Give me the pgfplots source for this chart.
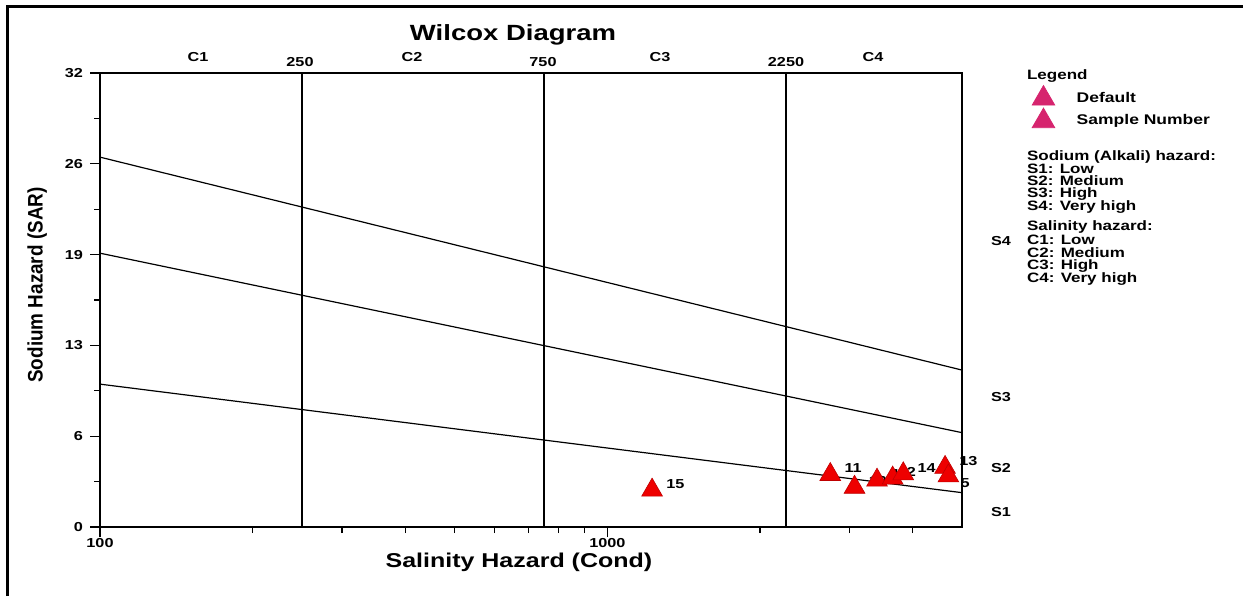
\documentclass[border=0pt]{standalone}
\usepackage{pgfplots}
\pgfplotsset{compat=1.18}
\usepackage{pgfplotstable}
\usepackage{fontspec}
\setmainfont{Liberation Sans}[FakeStretch=1.25]
\newfontfamily\ylabfont{Liberation Sans}[FakeStretch=0.9]
\definecolor{legpink}{RGB}{214,36,110}
\definecolor{ptred}{RGB}{238,0,0}

\pgfplotstableread{
x y lab
1225 2.6 15
2750 3.7 11
3070 2.8 10
3400 3.3 1
3650 3.45 2
3830 3.75 14
4630 4.2 13
}\samplesA
\pgfplotstableread{
x y lab
4700 3.6 5
}\samplesB

\begin{document}
\begin{tikzpicture}
\useasboundingbox (0,0) rectangle (621.5pt,298pt);
\draw[line width=1.5pt] (3.5pt,0) -- (3.5pt,294.5pt) -- (621.5pt,294.5pt);
\begin{axis}[
  at={(50pt,34.5pt)}, anchor=south west,
  scale only axis, width=431pt, height=227pt,
  xmode=log, log basis x=10,
  xmin=100, xmax=5000, ymin=0, ymax=32,
  axis line style={line width=0.8pt},
  xtick={100,1000}, xticklabels={100,1000},
  minor xtick={200,300,400,500,600,700,800,900,2000,3000,4000},
  ytick={0,6.4,12.8,19.2,25.6,32}, yticklabels={0,6,13,19,26,32},
  minor ytick={3.2,9.6,16,22.4,28.8},
  xtick pos=bottom, ytick pos=left, tick align=outside,
  major tick length=5pt, minor tick length=3pt,
  tick style={line width=0.6pt, black},
  tick label style={font=\bfseries\fontsize{6.5}{7}\selectfont},
  x tick label style={yshift=3pt},
  xlabel={Salinity Hazard (Cond)},
  xlabel style={font=\bfseries\fontsize{10}{12}\selectfont, at={(0.486,-0.077)}, anchor=center},
  ylabel={Sodium Hazard (SAR)},
  ylabel style={font=\ylabfont\bfseries\fontsize{10.5}{12}\selectfont, at={(-0.073,0.533)}, anchor=center},
  clip=false,
  legend style={at={(1.074,0.982)}, anchor=north west, draw=none, fill=none,
    font=\bfseries\fontsize{7}{8}\selectfont, row sep=-0.5pt,
    /tikz/column 1/.style={column sep=9pt}},
  legend cell align=left,
]
\addlegendimage{only marks, mark=triangle*, mark size=6.5pt, color=legpink}
\addlegendentry{Default}
\addlegendimage{only marks, mark=triangle*, mark size=6.5pt, color=legpink}
\addlegendentry{Sample Number}
% boundary lines
\addplot[black, line width=0.6pt, forget plot] coordinates {(100,26.07) (5000,11.06)};
\addplot[black, line width=0.6pt, forget plot] coordinates {(100,19.3) (5000,6.65)};
\addplot[black, line width=0.6pt, forget plot] coordinates {(100,10.07) (5000,2.42)};
\addplot[black, line width=1pt, forget plot] coordinates {(250,0) (250,32)};
\addplot[black, line width=1pt, forget plot] coordinates {(750,0) (750,32)};
\addplot[black, line width=1pt, forget plot] coordinates {(2250,0) (2250,32)};
% samples
\addplot[only marks, mark=triangle*, mark size=6pt, color=ptred,
  mark options={draw=red!75!black, line width=0.3pt},
  nodes near coords, point meta=explicit symbolic,
  every node near coord/.style={font=\bfseries\fontsize{6.5}{7}\selectfont, anchor=west, xshift=7pt, yshift=3pt, inner sep=0pt, black},
  forget plot] table[x=x, y=y, meta=lab] {\samplesA};
\addplot[only marks, mark=triangle*, mark size=6pt, color=ptred,
  mark options={draw=red!75!black, line width=0.3pt},
  nodes near coords, point meta=explicit symbolic,
  every node near coord/.style={font=\bfseries\fontsize{6.5}{7}\selectfont, anchor=west, xshift=6pt, yshift=-3.5pt, inner sep=0pt, black},
  forget plot] table[x=x, y=y, meta=lab] {\samplesB};
\end{axis}
\begin{scope}[x=0.5pt, y=-0.5pt, yshift=298pt]
  \node[font=\bfseries\fontsize{11}{13}\selectfont] at (513,35) {Wilcox Diagram};
\end{scope}
\begin{scope}[x=0.5pt, y=-0.5pt, yshift=298pt, font=\bfseries\fontsize{6.5}{7}\selectfont]
  % top zone labels
  \node at (198,57) {C1};
  \node at (412,57) {C2};
  \node at (660,57) {C3};
  \node at (873,57) {C4};
  \node at (300,62) {250};
  \node at (543,62) {750};
  \node at (786,62) {2250};
  % right sodium labels
  \node[anchor=west] at (984,241) {S4};
  \node[anchor=west] at (984,397) {S3};
  \node[anchor=west] at (984,468) {S2};
  \node[anchor=west] at (984,512) {S1};
\end{scope}
\begin{scope}[x=0.5pt, y=-0.5pt, yshift=298pt, font=\bfseries\fontsize{6.8}{7}\selectfont]
  \node[anchor=west] at (1020,76) {Legend};
  \node[anchor=west] at (1020,157) {Sodium (Alkali) hazard:};
  \node[anchor=west] at (1020,169) {S1: Low};
  \node[anchor=west] at (1020,181) {S2: Medium};
  \node[anchor=west] at (1020,194) {S3: High};
  \node[anchor=west] at (1020,207) {S4: Very high};
  \node[anchor=west] at (1020,227) {Salinity hazard:};
  \node[anchor=west] at (1020,240) {C1: Low};
  \node[anchor=west] at (1020,253) {C2: Medium};
  \node[anchor=west] at (1020,266) {C3: High};
  \node[anchor=west] at (1020,279) {C4: Very high};
\end{scope}
\end{tikzpicture}
\end{document}
